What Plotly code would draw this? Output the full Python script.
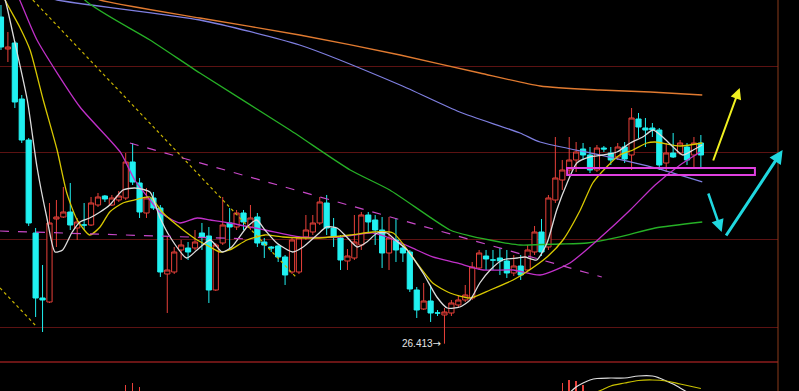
import plotly.graph_objects as go

# ---------------- data (price units) ----------------
opens = [29.68, 29.36, 29.42, 28.86, 28.45, 27.52, 26.87, 26.83, 27.66, 27.68,
         27.73, 27.57, 27.60, 27.60, 27.80, 27.89, 27.80, 27.85, 27.87, 28.23,
         28.02, 27.72, 27.87, 27.77, 27.11, 27.13, 27.35, 27.37, 27.37, 27.52,
         27.49, 26.95, 27.42, 27.62, 27.58, 27.72, 27.58, 27.68, 27.43, 27.38,
         27.39, 27.28, 27.13, 27.13, 27.48, 27.53, 27.62, 27.82, 27.57, 27.47,
         27.24, 27.27, 27.40, 27.70, 27.65, 27.55, 27.32, 27.45, 27.37, 27.33,
         26.95, 26.76, 26.84, 26.72, 26.70, 26.72, 26.80, 26.85, 26.87, 27.17,
         27.29, 27.25, 27.27, 27.24, 27.12, 27.19, 27.15, 27.33, 27.53, 27.38,
         27.85, 28.05, 28.15, 28.25, 28.36, 28.30, 28.15, 28.37, 28.32, 28.28,
         28.38, 28.30, 28.66, 28.57, 28.57, 28.55, 28.22, 28.32, 28.32, 28.38,
         28.30, 28.42]
highs = [29.80, 29.53, 29.44, 28.90, 28.47, 27.57, 27.20, 27.82, 27.85, 27.98,
         28.02, 27.67, 27.82, 27.88, 27.92, 27.90, 27.90, 27.94, 28.32, 28.42,
         28.07, 27.97, 27.93, 27.80, 27.48, 27.38, 27.45, 27.43, 27.55, 27.62,
         27.58, 27.42, 27.88, 27.77, 27.75, 27.75, 27.80, 27.72, 27.47, 27.39,
         27.41, 27.30, 27.47, 27.49, 27.70, 27.70, 27.88, 27.90, 27.67, 27.50,
         27.36, 27.70, 27.73, 27.73, 27.70, 27.68, 27.68, 27.67, 27.40, 27.35,
         26.98, 27.02, 27.00, 26.75, 26.77, 26.85, 26.90, 27.00, 27.23, 27.35,
         27.35, 27.35, 27.37, 27.35, 27.30, 27.30, 27.40, 27.59, 27.66, 27.90,
         28.48, 28.25, 28.48, 28.43, 28.42, 28.38, 28.40, 28.39, 28.38, 28.42,
         28.43, 28.77, 28.72, 28.67, 28.62, 28.57, 28.42, 28.52, 28.45, 28.42,
         28.48, 28.50]
lows = [29.35, 29.23, 28.77, 28.42, 27.59, 26.68, 26.53, 26.82, 27.38, 27.67,
        27.55, 27.45, 27.55, 27.59, 27.78, 27.83, 27.79, 27.83, 27.85, 28.00,
        27.67, 27.67, 27.75, 27.08, 26.72, 27.11, 27.25, 27.25, 27.35, 27.35,
        26.82, 26.94, 27.40, 27.35, 27.55, 27.55, 27.55, 27.38, 27.27, 27.33,
        27.23, 27.00, 27.11, 27.11, 27.45, 27.50, 27.60, 27.50, 27.38, 27.15,
        27.15, 27.25, 27.35, 27.53, 27.40, 27.17, 27.15, 27.23, 27.23, 26.93,
        26.67, 26.75, 26.63, 26.69, 26.413, 26.69, 26.77, 26.83, 26.85, 27.15,
        27.15, 27.15, 27.10, 27.07, 27.09, 27.05, 27.13, 27.30, 27.29, 27.35,
        27.82, 27.95, 28.10, 28.13, 28.25, 28.12, 28.13, 28.33, 28.20, 28.25,
        28.22, 28.15, 28.47, 28.38, 28.48, 28.15, 28.13, 28.27, 28.30, 28.20,
        28.18, 28.17]
closes = [29.38, 29.38, 28.83, 28.45, 27.62, 26.87, 26.85, 27.62, 27.68, 27.73,
          27.60, 27.63, 27.60, 27.82, 27.88, 27.86, 27.87, 27.89, 28.23, 28.03,
          27.73, 27.87, 27.77, 27.13, 27.15, 27.33, 27.40, 27.33, 27.43, 27.48,
          26.95, 27.40, 27.60, 27.58, 27.72, 27.63, 27.67, 27.42, 27.40, 27.37,
          27.28, 27.10, 27.45, 27.47, 27.55, 27.62, 27.83, 27.57, 27.48, 27.25,
          27.29, 27.43, 27.70, 27.63, 27.55, 27.32, 27.47, 27.35, 27.32, 26.96,
          26.75, 26.84, 26.72, 26.72, 26.73, 26.82, 26.85, 26.90, 27.18, 27.32,
          27.26, 27.25, 27.24, 27.12, 27.19, 27.10, 27.35, 27.53, 27.33, 27.87,
          28.07, 28.15, 28.25, 28.33, 28.30, 28.15, 28.37, 28.36, 28.25, 28.38,
          28.26, 28.67, 28.58, 28.55, 28.55, 28.20, 28.32, 28.28, 28.42, 28.25,
          28.42, 28.30]
bar_index = list(range(len(opens)))

# moving averages (candle index, price)
ma5_x = [-0.1, 0.6, 1.7, 3.8, 5.2, 6.6, 7.8, 8.9, 10.2, 11.4, 12.8, 14.3, 15.7, 17.6, 19.3,
         21.5, 22.9, 24.4, 26.8, 28.3, 30.2, 31.9, 33.3, 35.5, 36.9, 38.1, 39.8, 42.1, 43.6,
         45.6, 47.0, 48.5, 49.9, 51.4, 52.8, 54.3, 55.7, 56.9, 58.6, 60.9, 62.9, 64.4, 66.2,
         67.7, 69.1, 70.6, 72.4, 74.5, 75.6, 77.3, 78.8, 80.2, 81.7, 83.1, 85.0, 86.9, 88.9,
         90.8, 92.6, 94.1, 95.5, 97.0, 98.4, 99.9, 101.2]
ma5_y = [29.95, 29.85, 29.52, 28.85, 28.18, 27.68, 27.33, 27.35, 27.52, 27.63, 27.67, 27.73,
         27.80, 27.95, 27.97, 27.93, 27.68, 27.48, 27.27, 27.35, 27.45, 27.33, 27.38, 27.58,
         27.65, 27.55, 27.42, 27.33, 27.38, 27.50, 27.58, 27.57, 27.48, 27.38, 27.43, 27.52,
         27.52, 27.45, 27.35, 27.12, 26.88, 26.77, 26.78, 26.85, 27.02, 27.15, 27.25, 27.27,
         27.28, 27.25, 27.42, 27.75, 28.02, 28.22, 28.28, 28.30, 28.33, 28.42, 28.48, 28.55,
         28.48, 28.38, 28.30, 28.35, 28.40]
ma10_x = [-0.1, 0.6, 2.7, 4.2, 6.1, 8.1, 9.5, 11.0, 12.8, 14.3, 15.7, 17.6, 19.3, 21.5, 23.4,
          26.3, 28.3, 30.2, 31.6, 33.0, 35.5, 38.1, 40.7, 45.6, 50.4, 53.7, 56.6, 60.0, 62.3,
          64.8, 67.7, 70.6, 73.9, 75.6, 78.8, 81.1, 83.6, 85.4, 87.4, 89.3, 91.2, 93.2, 94.4,
          98.0, 101.2]
ma10_y = [30.00, 29.85, 29.58, 29.35, 28.85, 28.35, 27.92, 27.65, 27.50, 27.58, 27.73, 27.82,
          27.85, 27.88, 27.72, 27.55, 27.45, 27.38, 27.33, 27.35, 27.45, 27.50, 27.48, 27.47,
          27.50, 27.53, 27.52, 27.22, 27.02, 26.92, 26.87, 26.95, 27.05, 27.12, 27.28, 27.45,
          27.75, 28.02, 28.18, 28.30, 28.35, 28.42, 28.43, 28.39, 28.42]
ma20_x = [1.3, 2.7, 5.2, 11.4, 17.2, 19.3, 21.5, 22.9, 25.8, 28.3, 30.2, 33.0, 38.1, 43.1,
          48.9, 53.7, 55.7, 60.0, 62.3, 65.8, 69.6, 73.9, 77.8, 82.1, 86.9, 90.8, 94.4, 98.0,
          100.9]
ma20_y = [30.05, 29.85, 29.45, 28.78, 28.33, 28.05, 27.85, 27.73, 27.62, 27.67, 27.65, 27.62,
          27.55, 27.48, 27.48, 27.52, 27.48, 27.35, 27.28, 27.22, 27.15, 27.15, 27.10, 27.22,
          27.50, 27.75, 28.00, 28.20, 28.33]
ma60_x = [8.5, 12.1, 21.5, 28.7, 41.7, 50.4, 56.1, 64.8, 67.7, 72.0, 74.9, 80.7, 84.6, 89.3,
          94.4, 101.2]
ma60_y = [30.25, 29.85, 29.45, 29.12, 28.55, 28.15, 27.95, 27.55, 27.49, 27.43, 27.40, 27.41,
          27.42, 27.48, 27.57, 27.63]
ma120_x = [2.7, 8.1, 28.7, 43.1, 57.6, 66.2, 74.9, 77.8, 86.4, 94.4, 101.2]
ma120_y = [29.95, 29.85, 29.65, 29.40, 29.00, 28.73, 28.52, 28.43, 28.30, 28.17, 28.03]
ma250_x = [8.5, 14.3, 28.7, 43.1, 57.6, 69.1, 77.8, 86.4, 93.7, 101.2]
ma250_y = [30.00, 29.85, 29.67, 29.50, 29.30, 29.12, 28.99, 28.95, 28.93, 28.90]

grid_prices = [29.19, 28.32, 27.45, 26.57]
low_value_text = "26.413"
low_arrow_text = "→"

# lower indicator panel (MACD-like, only its top is visible)
dif_x = [78, 80, 81, 82, 83, 84, 85, 86, 88, 90, 92, 94, 95, 96, 97, 98, 99, 100, 101]
dif_y = [0.05, 0.15, 0.22, 0.28, 0.34, 0.38, 0.41, 0.425, 0.43, 0.43, 0.45, 0.45, 0.43, 0.40,
         0.37, 0.33, 0.29, 0.25, 0.22]
dea_x = [80, 84, 86, 87, 88, 90, 92, 94, 96, 98, 100, 101]
dea_y = [0.10, 0.25, 0.29, 0.32, 0.35, 0.38, 0.405, 0.41, 0.40, 0.37, 0.34, 0.325]
hist_x = [18, 19, 20, 81, 82, 83, 84]
hist_y = [0.36, 0.38, 0.34, 0.38, 0.41, 0.40, 0.36]

# ---------------- figure ----------------
RED = "#e8403a"
CYAN = "#20f0f0"

fig = go.Figure()

fig.add_trace(go.Candlestick(
    x=bar_index, open=opens, high=highs, low=lows, close=closes,
    increasing=dict(line=dict(color=RED, width=1), fillcolor="black"),
    decreasing=dict(line=dict(color=CYAN, width=1), fillcolor=CYAN),
    whiskerwidth=0, hoverinfo="skip", showlegend=False))

ma_specs = [
    (ma250_x, ma250_y, "#e07a30"),
    (ma120_x, ma120_y, "#7f7fe0"),
    (ma60_x, ma60_y, "#26b026"),
    (ma20_x, ma20_y, "#c030c8"),
    (ma10_x, ma10_y, "#d8c800"),
    (ma5_x, ma5_y, "#dcdcdc"),
]
for xs, ys, col in ma_specs:
    fig.add_trace(go.Scatter(x=xs, y=ys, mode="lines",
                             line=dict(color=col, width=1.3, shape="spline", smoothing=0.6),
                             hoverinfo="skip", showlegend=False))

# lower panel
fig.add_trace(go.Bar(x=hist_x, y=hist_y, marker=dict(color=RED, line=dict(width=0)),
                     width=0.22, yaxis="y2", hoverinfo="skip", showlegend=False))
fig.add_trace(go.Scatter(x=dif_x, y=dif_y, mode="lines", yaxis="y2",
                         line=dict(color="#dcdcdc", width=1.2, shape="spline"),
                         hoverinfo="skip", showlegend=False))
fig.add_trace(go.Scatter(x=dea_x, y=dea_y, mode="lines", yaxis="y2",
                         line=dict(color="#c8c000", width=1.2, shape="spline"),
                         hoverinfo="skip", showlegend=False))

shapes = [
    # trend lines
    dict(type="line", xref="x", yref="y", x0=4.6, y0=29.85, x1=42.7, y1=27.07,
         line=dict(color="#c8b400", width=1.2, dash="dot")),
    dict(type="line", xref="x", yref="y", x0=-0.14, y0=26.97, x1=5.2, y1=26.58,
         line=dict(color="#c8b400", width=1.2, dash="dot")),
    dict(type="line", xref="x", yref="y", x0=18.6, y0=28.42, x1=86.7, y1=27.08,
         line=dict(color="#c848c8", width=1.2, dash="dash")),
    dict(type="line", xref="x", yref="y", x0=-0.14, y0=27.54, x1=36.0, y1=27.46,
         line=dict(color="#c848c8", width=1.2, dash="dash")),
    # support box
    dict(type="rect", xref="x", yref="y", x0=81.7, x1=108.8, y0=28.10, y1=28.17,
         line=dict(color="#e040e0", width=2), fillcolor="rgba(0,0,0,0)"),
    # panel separator & right border
    dict(type="line", xref="paper", yref="paper", x0=0, x1=1, y0=0.0742, y1=0.0742,
         line=dict(color="#8c1c1c", width=1.5)),
    dict(type="line", xref="paper", yref="paper", x0=1, x1=1, y0=0, y1=1,
         line=dict(color="#8a3a1a", width=1)),
]

annotations = [
    dict(x=64, y=26.413, xref="x", yref="y",
         text=low_value_text + "<span style='font-family:DejaVu Sans'>" + low_arrow_text + "</span>",
         showarrow=False, xanchor="right", yanchor="middle", xshift=-1,
         font=dict(color="#e6e6e6", size=10, family="Liberation Sans")),
    dict(x=106.6, y=28.97, ax=102.7, ay=28.23, xref="x", yref="y", axref="x", ayref="y",
         showarrow=True, arrowhead=2, arrowsize=1.1, arrowwidth=2, arrowcolor="#f0f020", text=""),
    dict(x=104.0, y=27.53, ax=102.0, ay=27.93, xref="x", yref="y", axref="x", ayref="y",
         showarrow=True, arrowhead=2, arrowsize=1.0, arrowwidth=2.5, arrowcolor="#20d8e0", text=""),
    dict(x=112.8, y=28.35, ax=104.5, ay=27.48, xref="x", yref="y", axref="x", ayref="y",
         showarrow=True, arrowhead=2, arrowsize=0.9, arrowwidth=3, arrowcolor="#20d8e0", text=""),
]

fig.update_layout(
    width=799, height=391,
    margin=dict(l=0, r=21, t=0, b=0),
    paper_bgcolor="black", plot_bgcolor="black",
    showlegend=False, bargap=0, boxgap=0.25, boxgroupgap=0,
    xaxis=dict(range=[-0.14, 112.13], showgrid=False, zeroline=False, showticklabels=False,
               rangeslider=dict(visible=False), fixedrange=True),
    yaxis=dict(domain=[0.0742, 1], range=[26.23, 29.85], tickvals=grid_prices,
               showgrid=True, gridcolor="#5c1212", gridwidth=1, zeroline=False,
               showticklabels=False, fixedrange=True),
    yaxis2=dict(domain=[0, 0.0742], range=[0.30, 0.59], anchor="x", showgrid=False,
                zeroline=False, showticklabels=False, fixedrange=True),
    shapes=shapes, annotations=annotations,
)

fig.write_html(
    "out.html",
    config={"displayModeBar": False, "staticPlot": True},
    post_script="document.body.style.margin='0';document.body.style.background='black';"
                "document.documentElement.style.background='black';",
)
